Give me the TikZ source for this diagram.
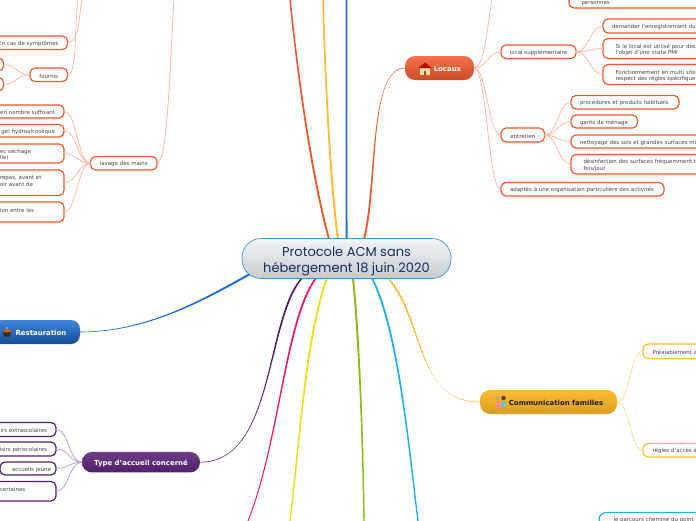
\documentclass[tikz,border=0pt]{standalone}
\usepackage{fontspec}
\setmainfont{DejaVu Sans}
\newfontfamily\titlefont{Poppins}
\usetikzlibrary{calc}
\definecolor{orangeA}{HTML}{F2592B}
\definecolor{orangeL}{HTML}{FFB9A3}
\definecolor{purpA}{HTML}{521D6E}
\definecolor{purpL}{HTML}{C3A2D0}
\definecolor{goldA}{HTML}{FDBB2D}
\definecolor{goldL}{HTML}{FFDC94}
\definecolor{blueA}{HTML}{1F6FD6}
\definecolor{skyA}{HTML}{20B2F0}
\definecolor{pinkA}{HTML}{F8146E}
\definecolor{yelA}{HTML}{F2DC12}
\definecolor{grnA}{HTML}{88BC10}
\definecolor{txt}{HTML}{444444}
\definecolor{hubT}{HTML}{F3F5F6}
\definecolor{hubB}{HTML}{C4CBD0}
\definecolor{hubE}{HTML}{3B94D0}
\definecolor{hubX}{HTML}{1B2E5A}
\newcommand\lowr{\rule{0pt}{6.6pt}}
\newcommand\lowt{\rule{0pt}{8pt}}
\tikzset{
  x=1pt,y=-1pt,
  base/.style={rounded corners=5pt,inner ysep=0pt,outer sep=0pt,font=\fontsize{5.45}{6.4}\selectfont,text=txt},
  leaf/.style={base,draw=orangeA,fill=white,line width=1.2pt},
  leafp/.style={base,draw=purpA,fill=white,line width=1.2pt},
  leafg/.style={base,draw=goldA,fill=white,line width=1.2pt},
  leafs/.style={base,draw=skyA,fill=white,line width=1.2pt,rounded corners=7pt},
  topic/.style={rounded corners=10pt,outer sep=0pt,inner sep=0pt,font=\fontsize{6.95}{8}\selectfont\bfseries,align=center},
  hub/.style={draw=hubE,line width=.7pt,rounded corners=19pt,top color=hubT,bottom color=hubB,outer sep=0pt,inner sep=0pt,text=hubX,font=\titlefont\fontsize{13}{16}\selectfont,align=center},
  ol/.style={orangeL,line width=.8pt},
  pl/.style={purpL,line width=.8pt},
  gl/.style={goldL,line width=.8pt},
}
\newcommand\bx[9]{%
  \pgfmathsetmacro\bw{#5-#4}\pgfmathsetmacro\bh{#7-#6}%
  \pgfmathsetmacro\bcx{(#4+#5)/2}\pgfmathsetmacro\bcy{(#6+#7)/2}%
  \pgfmathsetmacro\btw{#5-#4-2*#3}%
  \node[#2,inner xsep=#3pt,minimum width=\bw pt,minimum height=\bh pt,text width=\btw pt,align=#8] (#1) at (\bcx,\bcy) {\lowr #9};}
% filled connector that tapers: style, A, c1, c2, B, offset at A, offset at B
\newcommand\tconn[7]{\fill[#1] ($(#2)+(#6)$) .. controls ($(#3)+(#6)$) and ($(#4)+(#7)$) .. ($(#5)+(#7)$) -- ($(#5)-(#7)$) .. controls ($(#4)-(#7)$) and ($(#3)-(#6)$) .. ($(#2)-(#6)$) -- cycle;}
\newcommand\lnk[3]{\draw[#1] (#2) .. controls +(-13,0) and +(13,0) .. (#3);}
\newcommand\rnk[3]{\draw[#1] (#2) .. controls +(13,0) and +(-13,0) .. (#3);}
\begin{document}
\begin{tikzpicture}
\useasboundingbox (0,0) rectangle (696,520);
\fill[white] (0,0) rectangle (696,520);
\clip (0,0) rectangle (696,520);

% named hub points and free ends
\coordinate (hubA) at (329,239);  \coordinate (topA) at (290,-1);
\coordinate (hubB) at (338,239);  \coordinate (topB) at (323,-1);
\coordinate (hubC) at (346.5,239);\coordinate (topC) at (346.5,-1);
\coordinate (hubD) at (364,239);
\coordinate (hubE) at (250,274);
\coordinate (hubF) at (302,278);
\coordinate (hubG) at (316,278);  \coordinate (botG) at (248,521);
\coordinate (hubH) at (327,278);  \coordinate (botH) at (290,521);
\coordinate (hubI) at (353,278);  \coordinate (botI) at (364,521);
\coordinate (hubJ) at (372,278);  \coordinate (botJ) at (418,521);
\coordinate (hubK) at (388,278);
\coordinate (upS) at (82,-1);
\coordinate (upF) at (78,-1);
\coordinate (upL) at (174,-1);
\coordinate (upP) at (492,-1);

% ---- leaves
\bx{lav}{leaf}{5}{90.5}{157}{156.5}{170}{center}{lavage des mains}
\bx{sym}{leaf}{9}{-40}{67.5}{36}{49.5}{right}{En cas de symptômes}
\bx{fou}{leaf}{5}{30}{67.5}{68}{81.5}{center}{fournis}
\bx{foa}{leaf}{2}{-30}{3.5}{58}{71}{right}{}
\bx{fob}{leaf}{2}{-30}{3.5}{77.5}{91}{right}{}
\bx{la}{leaf}{9}{-40}{64}{105}{118}{right}{en nombre suffisant}
\bx{lb}{leaf}{9}{-40}{64}{124.5}{137}{right}{gel hydroalcoolique}
\bx{lc}{leaf}{9}{-9}{64}{144}{163}{left}{ec séchage\\lle)}
\bx{ld}{leaf}{9}{-9}{64}{170}{195.5}{left}{repas, avant et\\oir avant de\\~}
\bx{le}{leaf}{9}{-9}{64}{202}{222}{left}{ion entre les\\~}

\bx{pers}{leaf}{12.5}{569}{760}{-4}{8}{left}{personnes}
\bx{sup}{leaf}{5}{501}{576}{45}{58.5}{center}{local supplémentaire}
\bx{sa}{leaf}{9}{603}{760}{19}{33}{left}{demander l'enregistrement du}
\bx{sb}{leaf}{12.5}{603}{760}{38.5}{58.5}{left}{Si le local est utilisé pour des\\l'objet d'une visite PMI}
\bx{sc}{leaf}{12.5}{603}{760}{64.5}{84.5}{left}{Fonctionnement en multi site\\respect des règles spécifique}
\bx{ent}{leaf}{5}{501}{544.5}{128}{142}{center}{entretien}
\bx{ea}{leaf}{9}{571}{679}{95.5}{109}{left}{procédures et produits habituels}
\bx{eb}{leaf}{9}{571}{637.5}{115}{128}{left}{gants de ménage}
\bx{ec}{leaf}{9}{571}{760}{135}{148}{left}{nettoyage des sols et grandes surfaces mi}
\bx{ed}{leaf}{12.5}{571}{760}{154.5}{174}{left}{désinfection des surfaces fréquemment t\\fois/jour}
\bx{ada}{leaf}{9}{501}{664}{182.5}{196}{left}{adaptés à une organisation particulière des activités}

\bx{ta}{leafp}{9}{-40}{56}{422.5}{436.5}{right}{irs extrascolaires}
\bx{tb}{leafp}{9}{-40}{56}{442}{456}{right}{isirs périscolaires}
\bx{tc}{leafp}{5}{0}{56}{462}{475}{right}{accueils jeune\hspace{4pt}}
\bx{td}{leafp}{9}{-9}{56}{481.5}{501}{left}{certaines\\~}

\bx{ga}{leafg}{9.6}{643}{760}{344}{358.5}{left}{Préalablement à}
\bx{gb}{leafg}{9.6}{643}{760}{443.5}{457}{left}{règles d'accès à}
\bx{bot}{leafs}{14.5}{599}{760}{512.5}{526}{left}{le parcours cheminé du point}

% ---- topics
\node[topic,top color=orangeA!85!white,bottom color=orangeA!85!black,minimum width=69pt,minimum height=24pt,text=white] (loc) at (439.5,68) {\lowt\hspace{16pt}Locaux};
\node[topic,top color=blueA!85!white,bottom color=blueA!70!black,minimum width=110pt,minimum height=24pt,text=white,rounded corners=9pt] (res) at (25,332) {\lowt\hspace{32pt}Restauration};
\node[topic,top color=purpA!85!white,bottom color=purpA,minimum width=118pt,minimum height=20.5pt,text=white] (typ) at (141,462.2) {\lowt Type d'accueil concerné};
\node[topic,top color=goldA,bottom color=goldA!85!black,minimum width=137pt,minimum height=24pt,text=black!90] (com) at (548.5,402) {\lowt\hspace{15pt}Communication familles};

% ---- hub connectors
\tconn{orangeA}{hubA}{310,170}{296,60}{topA}{1,0}{.8,0}
\tconn{goldA}{hubB}{331,190}{325,80}{topB}{1,0}{.8,0}
\tconn{blueA}{hubC}{346.5,170}{346.5,70}{topC}{1,0}{.8,0}
\tconn{orangeA}{hubD}{378,185}{368,68}{loc.west}{1,0}{0,.3}
\tconn{blueA}{hubE}{200,302}{145,332}{res.east}{.5,.9}{0,.3}
\tconn{purpA}{hubF}{265,320}{275,462}{typ.east}{1,0}{0,.3}
\tconn{pinkA}{hubG}{285,320}{280,440}{botG}{1,0}{.5,0}
\tconn{yelA}{hubH}{305,340}{300,440}{botH}{1,0}{.7,0}
\tconn{grnA}{hubI}{360,350}{363,450}{botI}{1,0}{.7,0}
\tconn{skyA}{hubJ}{398,330}{408,440}{botJ}{1,0}{.7,0}
\tconn{goldA}{hubK}{425,320}{415,402}{com.west}{1,0}{0,.3}

% ---- child connectors
\draw[ol] (lav.east) .. controls +(11,0) and (170,60) .. (upL);
\draw[ol] (sym.east) .. controls +(12,0) and (79,15) .. (upS);
\draw[ol] (fou.east) .. controls +(10,0) and (74,30) .. (upF);
\lnk{ol}{fou.west}{foa.east}
\lnk{ol}{fou.west}{fob.east}
\lnk{ol}{lav.west}{la.east}
\lnk{ol}{lav.west}{lb.east}
\lnk{ol}{lav.west}{lc.east}
\lnk{ol}{lav.west}{ld.east}
\lnk{ol}{lav.west}{le.east}
\draw[ol] (loc.east) .. controls +(10,0) and (487,30) .. (upP);
\rnk{ol}{loc.east}{sup.west}
\rnk{ol}{loc.east}{ent.west}
\rnk{ol}{loc.east}{ada.west}
\rnk{ol}{sup.east}{sa.west}
\rnk{ol}{sup.east}{sb.west}
\rnk{ol}{sup.east}{sc.west}
\rnk{ol}{ent.east}{ea.west}
\rnk{ol}{ent.east}{eb.west}
\rnk{ol}{ent.east}{ec.west}
\rnk{ol}{ent.east}{ed.west}
\lnk{pl}{typ.west}{ta.east}
\lnk{pl}{typ.west}{tb.east}
\lnk{pl}{typ.west}{tc.east}
\lnk{pl}{typ.west}{td.east}
\rnk{gl}{com.east}{ga.west}
\rnk{gl}{com.east}{gb.west}

% ---- central topic
\node[hub,minimum width=209pt,minimum height=40pt] (main) at (346.5,258.5) {\rule{0pt}{15pt}Protocole ACM sans\\hébergement 18 juin 2020};

% ---- icons
% house
\fill[yellow!40!brown!45!white] (420,68) rectangle (430,75);
\fill[red!75!black] (418.5,68) -- (425,62.5) -- (431.5,68) -- cycle;
\fill[brown!70!black] (423.7,71) rectangle (426.3,75);
% pot
\fill[black!70!brown] (3,331) -- (11,331) -- (10,336.5) -- (4,336.5) -- cycle;
\fill[orange!80!black] (7,331) ellipse (4.5 and 1.6);
\fill[gray!60] (7,328) circle (1.2);
% family
\fill[brown!70] (498,398) circle (2.2);
\fill[brown!50!black] (503.5,398) circle (2.2);
\fill[red!45!white] (495.5,401) rectangle (500,407);
\fill[teal!50!white] (501,401) rectangle (505.5,407);
\end{tikzpicture}
\end{document}
